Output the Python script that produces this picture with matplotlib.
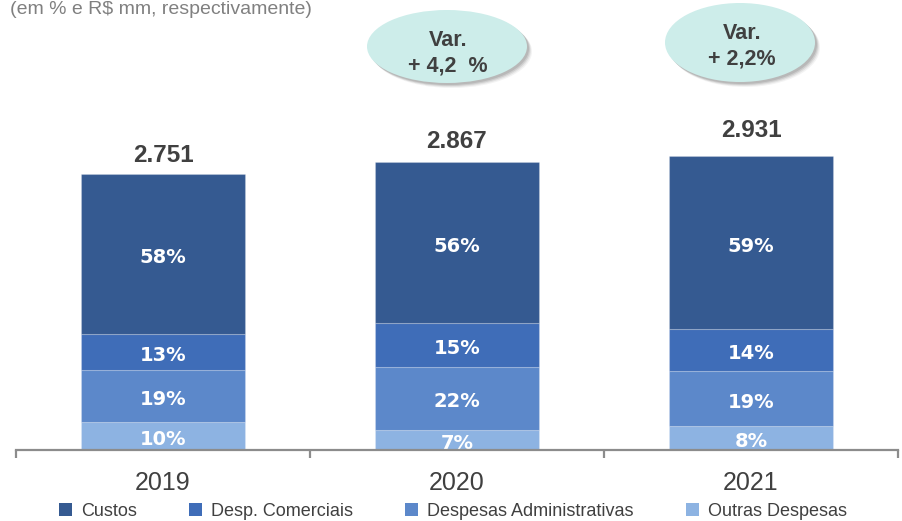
import numpy as np
import matplotlib
matplotlib.use("Agg")
import matplotlib.pyplot as plt
from matplotlib.patches import Ellipse, Patch

# dados
anos = ["2019", "2020", "2021"]
totais = [2751, 2867, 2931]
custos_pct = [58, 56, 59]
comerciais_pct = [13, 15, 14]
administrativas_pct = [19, 22, 19]
outras_pct = [10, 7, 8]
variacoes = ["+ 4,2  %", "+ 2,2%"]
series_nomes = ["Custos", "Desp. Comerciais", "Despesas Administrativas", "Outras Despesas"]

cores = {
    "Custos": "#355A91",
    "Desp. Comerciais": "#3F6DB8",
    "Despesas Administrativas": "#5C88CA",
    "Outras Despesas": "#8DB3E2",
}

SANS = ["Liberation Sans", "DejaVu Sans"]
W, H = 902, 521


def fx(x):
    return x / W


def fy(y):
    return 1 - y / H


fig = plt.figure(figsize=(W / 100, H / 100), dpi=100)
ax = fig.add_axes([fx(16), fy(450), fx(882), 450 / H])

x = np.arange(len(anos))
largura = 0.555
totais_arr = np.array(totais, dtype=float)

# empilhamento de baixo para cima
pilha = [
    ("Outras Despesas", outras_pct),
    ("Despesas Administrativas", administrativas_pct),
    ("Desp. Comerciais", comerciais_pct),
    ("Custos", custos_pct),
]
base = np.zeros(len(anos))
for nome, pct in pilha:
    pct = np.array(pct, dtype=float)
    alturas = totais_arr * pct / 100
    ax.bar(x, alturas, largura, bottom=base, color=cores[nome],
           edgecolor=(1, 1, 1, 0.2), linewidth=0.8, zorder=2)
    for xi, b, h, p in zip(x, base, alturas, pct):
        ax.annotate(f"{p:.0f}%", (xi, b + h / 2), xytext=(0, -2.5),
                    textcoords="offset points", ha="center", va="center",
                    color="white", fontsize=14, fontweight="bold",
                    family="DejaVu Sans", clip_on=True, zorder=3)
    base += alturas

# totais acima das barras
desloc_total = [12, 14, 19]
for xi, t, d in zip(x, totais, desloc_total):
    ax.annotate(f"{t:,}".replace(",", "."), (xi, t), xytext=(0, d * 0.72),
                textcoords="offset points", ha="center", va="baseline",
                fontsize=17.5, fontweight="bold", color="#404040", family=SANS)

ax.set_xlim(-0.5, 2.5)
ax.set_ylim(0, 450 / 0.1003)

for s in ["top", "right", "left"]:
    ax.spines[s].set_visible(False)
ax.spines["bottom"].set_color("#8C8C8C")
ax.spines["bottom"].set_linewidth(1.6)
ax.spines["bottom"].set_zorder(4)
ax.set_yticks([])

ax.set_xticks([-0.5, 0.5, 1.5, 2.5])
ax.set_xticklabels([])
ax.tick_params(axis="x", which="major", length=6, width=1.6, color="#8C8C8C", direction="out")
ax.set_xticks(x, minor=True)
ax.set_xticklabels(anos, minor=True, fontsize=18, color="#404040", family=SANS)
ax.tick_params(axis="x", which="minor", length=0, pad=15)

# subtítulo
fig.text(fx(10), fy(14), "(em % e R$ mm, respectivamente)", fontsize=14,
         color="#808080", family=SANS, va="baseline")

# balões de variação
baloes = [((447, 46.5), 160, 73, (448, 53)), ((740, 42.5), 150, 79, (742, 46))]
for (centro, bw, bh, txt_pos), var in zip(baloes, variacoes):
    cx, cy = centro
    for k, a in [(5, 0.08), (4, 0.12), (3, 0.18), (2, 0.22)]:
        fig.patches.append(Ellipse((fx(cx + k), fy(cy + k)), fx(bw), bh / H,
                                   transform=fig.transFigure, facecolor="#6E6E6E",
                                   edgecolor="none", alpha=a, zorder=5))
    fig.patches.append(Ellipse((fx(cx), fy(cy)), fx(bw), bh / H,
                               transform=fig.transFigure, facecolor="#CDEDEA",
                               edgecolor="none", zorder=6))
    fig.text(fx(txt_pos[0]), fy(txt_pos[1]), f"Var.\n{var}", ha="center", va="center",
             fontsize=15.5, fontweight="bold", color="#404040", family=SANS,
             linespacing=1.3, zorder=7)

# legenda
handles = [Patch(facecolor=cores[n], edgecolor="none") for n in series_nomes]
fig.legend(handles, series_nomes, loc="center", bbox_to_anchor=(fx(453), fy(511)),
           ncol=4, frameon=False, handlelength=0.72, handleheight=0.72,
           handletextpad=0.5, columnspacing=2.9, borderaxespad=0,
           prop={"family": SANS, "size": 13}, labelcolor="#404040")

fig.savefig("out.png", dpi=100)
